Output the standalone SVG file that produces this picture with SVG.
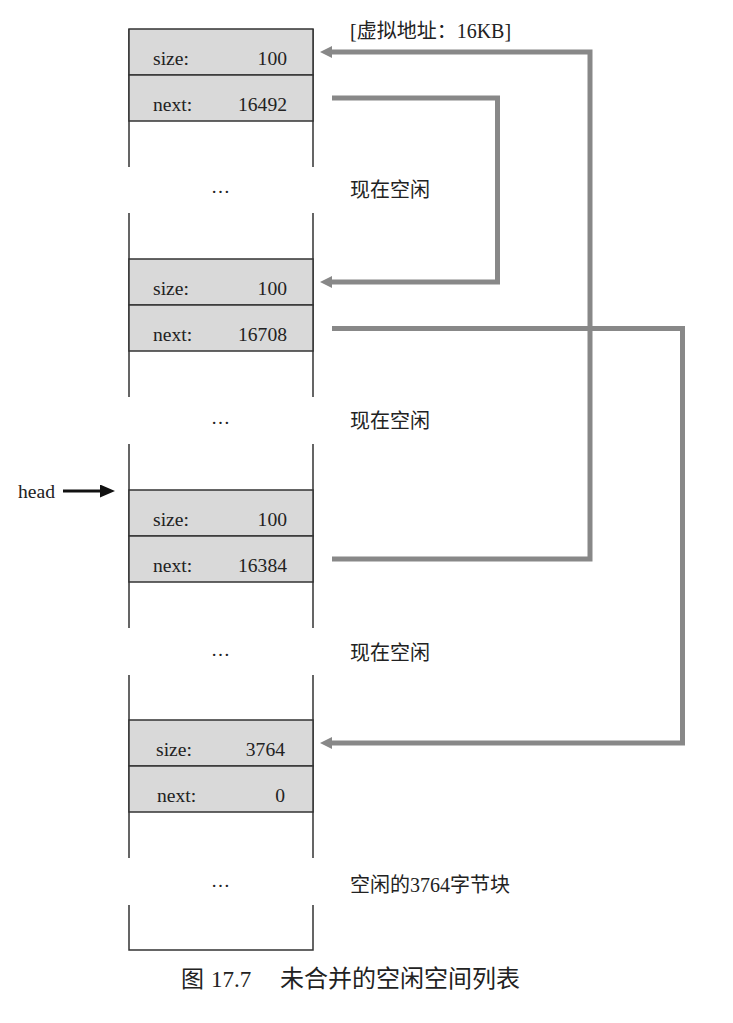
<svg xmlns="http://www.w3.org/2000/svg" width="733" height="1023" viewBox="0 0 733 1023">
<style>
.row{fill:#d9d9d9;stroke:#333;stroke-width:1.5}
.side{stroke:#333;stroke-width:1.5;fill:none}
.t{font-family:"Liberation Serif","Times New Roman",serif;font-size:19.6px;fill:#222}
.r{text-anchor:end}
.cn{font-family:"Liberation Serif","Noto Sans CJK SC",serif;font-size:20px;fill:#222}
.dots{font-family:"Liberation Serif",serif;font-size:19px;fill:#222;text-anchor:middle}
.link{fill:none;stroke:#888;stroke-width:5;stroke-linejoin:miter;marker-end:url(#ah)}
</style>
<defs>
<marker id="ah" viewBox="0 0 12 12" markerWidth="12" markerHeight="12" refX="4" refY="6" orient="auto" markerUnits="userSpaceOnUse">
<path d="M0,0 L12,6 L0,12 z" fill="#888"/>
</marker>
<marker id="bh" viewBox="0 0 15 13" markerWidth="15" markerHeight="13" refX="3" refY="6.5" orient="auto" markerUnits="userSpaceOnUse">
<path d="M0,0 L15,6.5 L0,13 z" fill="#111"/>
</marker>
</defs>

<g id="block1">
<path class="side" d="M129,29 V167 M313,29 V167"/>
<rect class="row" x="129" y="29" width="184" height="46"/>
<rect class="row" x="129" y="75" width="184" height="46"/>
<text class="t" x="153" y="65">size:</text>
<text class="t r" x="287" y="65">100</text>
<text class="t" x="153" y="111">next:</text>
<text class="t r" x="287" y="111">16492</text>
</g>

<g id="block2">
<path class="side" d="M129,213 V397 M313,213 V397"/>
<rect class="row" x="129" y="259" width="184" height="46"/>
<rect class="row" x="129" y="305" width="184" height="46"/>
<text class="t" x="153" y="295">size:</text>
<text class="t r" x="287" y="295">100</text>
<text class="t" x="153" y="341">next:</text>
<text class="t r" x="287" y="341">16708</text>
</g>

<g id="block3">
<path class="side" d="M129,444 V628 M313,444 V628"/>
<rect class="row" x="129" y="490" width="184" height="46"/>
<rect class="row" x="129" y="536" width="184" height="46"/>
<text class="t" x="153" y="526">size:</text>
<text class="t r" x="287" y="526">100</text>
<text class="t" x="153" y="572">next:</text>
<text class="t r" x="287" y="572">16384</text>
</g>

<g id="block4">
<path class="side" d="M129,675 V858 M313,675 V858"/>
<rect class="row" x="129" y="720" width="184" height="46"/>
<rect class="row" x="129" y="766" width="184" height="46"/>
<text class="t" x="156" y="756">size:</text>
<text class="t r" x="285" y="756">3764</text>
<text class="t" x="157" y="802">next:</text>
<text class="t r" x="285" y="802">0</text>
</g>

<g id="block5">
<path class="side" d="M129,905 V950 H313 V905"/>
</g>

<g id="gaps">
<text class="dots" x="220.5" y="193">…</text>
<text class="dots" x="220.5" y="424">…</text>
<text class="dots" x="220.5" y="656">…</text>
<text class="dots" x="220.5" y="887">…</text>
</g>

<g id="labels">
<text class="cn" x="350" y="38">[虚拟地址：16KB]</text>
<text class="cn" x="350" y="197">现在空闲</text>
<text class="cn" x="350" y="428">现在空闲</text>
<text class="cn" x="350" y="660">现在空闲</text>
<text class="cn" x="350" y="892">空闲的3764字节块</text>
</g>

<g id="head">
<text class="t" x="18" y="498">head</text>
</g>

<g id="connectors">
<path class="link" d="M332,559 H590 V52 H328"/>
<path class="link" d="M332,98 H497.5 V282 H328"/>
<path class="link" d="M332,328.5 H682.5 V743 H328"/>
<path d="M63,491 H103" stroke="#111" stroke-width="3" fill="none" marker-end="url(#bh)"/>
</g>

<g id="caption">
<text font-family="Liberation Serif,Noto Sans CJK SC,serif" font-size="23" fill="#222" y="987"><tspan x="181">图</tspan><tspan x="211">17.7</tspan><tspan x="280" font-size="24">未合并的空闲空间列表</tspan></text>
</g>
</svg>
